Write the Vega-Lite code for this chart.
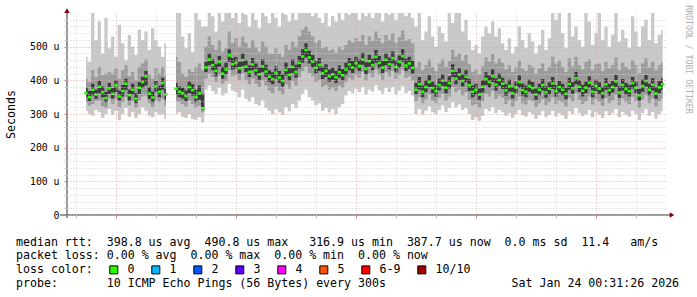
{
"$schema":"https://vega.github.io/schema/vega-lite/v6.json",
"width":600,"height":202,
"autosize":{"type":"none"},
"padding":{"left":67,"top":13,"right":30,"bottom":82},
"background":"#ffffff",
"view":{"stroke":null},
"config":{"font":"DejaVu Sans Mono"},
"title":{"text":["median\u00a0rtt:\u00a0\u00a0398.8\u00a0us\u00a0avg\u00a0\u00a0490.8\u00a0us\u00a0max\u00a0\u00a0\u00a0316.9\u00a0us\u00a0min\u00a0\u00a0387.7\u00a0us\u00a0now\u00a0\u00a00.0\u00a0ms\u00a0sd\u00a0\u00a011.4\u00a0\u00a0\u00a0am/s","packet\u00a0loss:\u00a00.00\u00a0%\u00a0avg\u00a0\u00a00.00\u00a0%\u00a0max\u00a0\u00a00.00\u00a0%\u00a0min\u00a0\u00a00.00\u00a0%\u00a0now","loss\u00a0color:","probe:\u00a0\u00a0\u00a0\u00a0\u00a0\u00a0\u00a010\u00a0ICMP\u00a0Echo\u00a0Pings\u00a0(56\u00a0Bytes)\u00a0every\u00a0300s\u00a0\u00a0\u00a0\u00a0\u00a0\u00a0\u00a0\u00a0\u00a0\u00a0\u00a0\u00a0\u00a0\u00a0\u00a0\u00a0\u00a0\u00a0Sat\u00a0Jan\u00a024\u00a000:31:26\u00a02026"],
"orient":"bottom","anchor":"start","frame":"group","font":"DejaVu Sans Mono","fontSize":11.6,"fontWeight":"normal","color":"#000000","lineHeight":13.7,"offset":6,"dx":-51,"dy":-45.5},
"data":{"values":[
{"t":-270,"m":362,"a":310,"b":470,"c":335,"d":405,"e":350,"f":378},
{"t":-260,"m":350,"a":300,"b":455,"c":325,"d":395,"e":338,"f":368},
{"t":-250,"m":372,"a":295,"b":600,"c":330,"d":430,"e":355,"f":390},
{"t":-240,"m":358,"a":312,"b":520,"c":338,"d":410,"e":345,"f":372},
{"t":-230,"m":381,"a":305,"b":575,"c":340,"d":440,"e":362,"f":398},
{"t":-220,"m":365,"a":288,"b":480,"c":322,"d":415,"e":350,"f":382},
{"t":-210,"m":347,"a":300,"b":585,"c":318,"d":420,"e":335,"f":365},
{"t":-200,"m":376,"a":315,"b":495,"c":345,"d":425,"e":360,"f":392},
{"t":-190,"m":360,"a":298,"b":530,"c":330,"d":420,"e":346,"f":377},
{"t":-180,"m":385,"a":310,"b":470,"c":344,"d":435,"e":365,"f":400},
{"t":-170,"m":352,"a":282,"b":565,"c":320,"d":405,"e":340,"f":370},
{"t":-160,"m":368,"a":300,"b":510,"c":335,"d":430,"e":352,"f":386},
{"t":-150,"m":390,"a":318,"b":460,"c":350,"d":445,"e":372,"f":405},
{"t":-140,"m":356,"a":292,"b":535,"c":326,"d":412,"e":340,"f":372},
{"t":-130,"m":372,"a":305,"b":500,"c":338,"d":425,"e":358,"f":390},
{"t":-120,"m":345,"a":288,"b":475,"c":318,"d":400,"e":332,"f":362},
{"t":-110,"m":378,"a":300,"b":550,"c":340,"d":440,"e":360,"f":395},
{"t":-100,"m":395,"a":320,"b":520,"c":352,"d":450,"e":378,"f":410},
{"t":-90,"m":412,"a":310,"b":545,"c":355,"d":462,"e":385,"f":428},
{"t":-80,"m":361,"a":295,"b":490,"c":332,"d":418,"e":345,"f":380},
{"t":-70,"m":349,"a":290,"b":555,"c":320,"d":405,"e":335,"f":366},
{"t":-60,"m":383,"a":305,"b":520,"c":340,"d":438,"e":366,"f":398},
{"t":-50,"m":366,"a":298,"b":500,"c":335,"d":420,"e":350,"f":384},
{"t":-40,"m":392,"a":300,"b":470,"c":345,"d":440,"e":372,"f":408},
{"t":-30,"m":358,"a":285,"b":510,"c":325,"d":412,"e":342,"f":374},
{"t":-20,"m":null,"a":null,"b":null,"c":null,"d":null,"e":null,"f":null},
{"t":-10,"m":null,"a":null,"b":null,"c":null,"d":null,"e":null,"f":null},
{"t":0,"m":375,"a":300,"b":600,"c":338,"d":470,"e":358,"f":392},
{"t":10,"m":366,"a":305,"b":600,"c":335,"d":455,"e":350,"f":382},
{"t":20,"m":362,"a":292,"b":530,"c":330,"d":420,"e":346,"f":378},
{"t":30,"m":353,"a":288,"b":495,"c":322,"d":410,"e":338,"f":370},
{"t":40,"m":380,"a":300,"b":540,"c":340,"d":432,"e":362,"f":396},
{"t":50,"m":371,"a":285,"b":485,"c":330,"d":425,"e":355,"f":388},
{"t":60,"m":350,"a":282,"b":600,"c":318,"d":440,"e":335,"f":372},
{"t":70,"m":362,"a":290,"b":580,"c":325,"d":450,"e":342,"f":385},
{"t":80,"m":317,"a":275,"b":560,"c":305,"d":430,"e":312,"f":360},
{"t":90,"m":438,"a":372,"b":560,"c":405,"d":500,"e":425,"f":455},
{"t":100,"m":462,"a":385,"b":600,"c":420,"d":530,"e":445,"f":480},
{"t":110,"m":445,"a":368,"b":590,"c":410,"d":505,"e":430,"f":462},
{"t":120,"m":428,"a":360,"b":545,"c":395,"d":490,"e":412,"f":448},
{"t":130,"m":455,"a":378,"b":600,"c":415,"d":520,"e":440,"f":472},
{"t":140,"m":420,"a":355,"b":575,"c":390,"d":485,"e":405,"f":440},
{"t":150,"m":432,"a":362,"b":600,"c":398,"d":495,"e":418,"f":452},
{"t":160,"m":474,"a":390,"b":600,"c":430,"d":545,"e":455,"f":492},
{"t":170,"m":448,"a":370,"b":585,"c":412,"d":510,"e":432,"f":466},
{"t":180,"m":452,"a":365,"b":600,"c":415,"d":525,"e":436,"f":470},
{"t":190,"m":436,"a":350,"b":570,"c":400,"d":500,"e":420,"f":455},
{"t":200,"m":460,"a":372,"b":600,"c":420,"d":530,"e":442,"f":480},
{"t":210,"m":441,"a":345,"b":595,"c":402,"d":512,"e":425,"f":460},
{"t":220,"m":425,"a":338,"b":560,"c":388,"d":495,"e":410,"f":445},
{"t":230,"m":447,"a":350,"b":600,"c":405,"d":520,"e":430,"f":466},
{"t":240,"m":430,"a":330,"b":580,"c":390,"d":498,"e":414,"f":450},
{"t":250,"m":418,"a":325,"b":555,"c":380,"d":485,"e":402,"f":438},
{"t":260,"m":442,"a":340,"b":600,"c":400,"d":515,"e":425,"f":462},
{"t":270,"m":426,"a":318,"b":590,"c":385,"d":500,"e":410,"f":446},
{"t":280,"m":411,"a":310,"b":570,"c":370,"d":480,"e":395,"f":430},
{"t":290,"m":404,"a":300,"b":600,"c":362,"d":478,"e":388,"f":424},
{"t":300,"m":422,"a":315,"b":585,"c":380,"d":495,"e":405,"f":442},
{"t":310,"m":408,"a":305,"b":560,"c":368,"d":480,"e":392,"f":428},
{"t":320,"m":398,"a":298,"b":600,"c":358,"d":470,"e":382,"f":418},
{"t":330,"m":431,"a":320,"b":595,"c":388,"d":505,"e":414,"f":452},
{"t":340,"m":416,"a":308,"b":575,"c":375,"d":490,"e":400,"f":436},
{"t":350,"m":440,"a":330,"b":600,"c":398,"d":515,"e":422,"f":462},
{"t":360,"m":425,"a":318,"b":580,"c":385,"d":500,"e":408,"f":446},
{"t":370,"m":452,"a":340,"b":600,"c":410,"d":530,"e":435,"f":472},
{"t":380,"m":471,"a":360,"b":600,"c":428,"d":550,"e":452,"f":492},
{"t":390,"m":490,"a":372,"b":600,"c":440,"d":560,"e":468,"f":510},
{"t":400,"m":468,"a":350,"b":600,"c":422,"d":545,"e":450,"f":488},
{"t":410,"m":455,"a":340,"b":590,"c":412,"d":530,"e":438,"f":475},
{"t":420,"m":437,"a":325,"b":600,"c":395,"d":512,"e":420,"f":458},
{"t":430,"m":446,"a":332,"b":585,"c":402,"d":520,"e":428,"f":466},
{"t":440,"m":421,"a":310,"b":570,"c":380,"d":495,"e":404,"f":440},
{"t":450,"m":428,"a":318,"b":600,"c":386,"d":500,"e":410,"f":448},
{"t":460,"m":412,"a":305,"b":560,"c":372,"d":488,"e":396,"f":432},
{"t":470,"m":418,"a":315,"b":590,"c":378,"d":492,"e":402,"f":438},
{"t":480,"m":409,"a":300,"b":575,"c":368,"d":482,"e":392,"f":428},
{"t":490,"m":424,"a":320,"b":600,"c":384,"d":500,"e":408,"f":444},
{"t":500,"m":415,"a":330,"b":580,"c":378,"d":490,"e":400,"f":434},
{"t":510,"m":432,"a":355,"b":600,"c":395,"d":505,"e":415,"f":452},
{"t":520,"m":447,"a":368,"b":595,"c":408,"d":520,"e":430,"f":466},
{"t":530,"m":438,"a":362,"b":600,"c":402,"d":512,"e":422,"f":458},
{"t":540,"m":451,"a":375,"b":600,"c":415,"d":525,"e":435,"f":470},
{"t":550,"m":443,"a":365,"b":580,"c":408,"d":515,"e":428,"f":462},
{"t":560,"m":462,"a":380,"b":600,"c":425,"d":535,"e":446,"f":482},
{"t":570,"m":434,"a":358,"b":590,"c":400,"d":505,"e":418,"f":454},
{"t":580,"m":457,"a":372,"b":600,"c":420,"d":530,"e":440,"f":476},
{"t":590,"m":445,"a":366,"b":585,"c":410,"d":518,"e":430,"f":464},
{"t":600,"m":470,"a":385,"b":600,"c":432,"d":545,"e":452,"f":490},
{"t":610,"m":452,"a":370,"b":600,"c":418,"d":525,"e":436,"f":472},
{"t":620,"m":438,"a":360,"b":575,"c":402,"d":510,"e":422,"f":458},
{"t":630,"m":461,"a":378,"b":600,"c":425,"d":535,"e":445,"f":480},
{"t":640,"m":448,"a":365,"b":595,"c":412,"d":520,"e":432,"f":468},
{"t":650,"m":466,"a":380,"b":600,"c":428,"d":540,"e":450,"f":486},
{"t":660,"m":440,"a":358,"b":580,"c":405,"d":512,"e":424,"f":460},
{"t":670,"m":455,"a":370,"b":600,"c":418,"d":528,"e":438,"f":474},
{"t":680,"m":472,"a":382,"b":600,"c":432,"d":548,"e":455,"f":492},
{"t":690,"m":444,"a":362,"b":590,"c":408,"d":518,"e":428,"f":464},
{"t":700,"m":450,"a":368,"b":600,"c":412,"d":522,"e":434,"f":470},
{"t":710,"m":437,"a":355,"b":585,"c":400,"d":510,"e":420,"f":458},
{"t":720,"m":372,"a":300,"b":560,"c":338,"d":440,"e":358,"f":392},
{"t":730,"m":389,"a":315,"b":600,"c":350,"d":455,"e":372,"f":410},
{"t":740,"m":366,"a":298,"b":520,"c":332,"d":430,"e":350,"f":385},
{"t":750,"m":380,"a":310,"b":545,"c":344,"d":445,"e":365,"f":400},
{"t":760,"m":395,"a":322,"b":590,"c":358,"d":462,"e":380,"f":415},
{"t":770,"m":377,"a":305,"b":530,"c":340,"d":440,"e":362,"f":396},
{"t":780,"m":368,"a":300,"b":500,"c":332,"d":428,"e":352,"f":386},
{"t":790,"m":386,"a":312,"b":560,"c":348,"d":450,"e":370,"f":405},
{"t":800,"m":399,"a":325,"b":540,"c":360,"d":462,"e":384,"f":418},
{"t":810,"m":378,"a":306,"b":515,"c":340,"d":440,"e":362,"f":396},
{"t":820,"m":392,"a":318,"b":600,"c":352,"d":458,"e":376,"f":412},
{"t":830,"m":428,"a":335,"b":570,"c":380,"d":490,"e":410,"f":448},
{"t":840,"m":405,"a":320,"b":600,"c":365,"d":470,"e":388,"f":425},
{"t":850,"m":417,"a":328,"b":600,"c":372,"d":480,"e":400,"f":436},
{"t":860,"m":398,"a":312,"b":545,"c":355,"d":460,"e":382,"f":418},
{"t":870,"m":411,"a":318,"b":580,"c":365,"d":475,"e":394,"f":430},
{"t":880,"m":385,"a":300,"b":520,"c":342,"d":448,"e":368,"f":404},
{"t":890,"m":366,"a":282,"b":490,"c":325,"d":425,"e":350,"f":385},
{"t":900,"m":372,"a":290,"b":505,"c":330,"d":432,"e":356,"f":390},
{"t":910,"m":358,"a":280,"b":480,"c":318,"d":418,"e":342,"f":376},
{"t":920,"m":381,"a":295,"b":530,"c":338,"d":442,"e":364,"f":400},
{"t":930,"m":404,"a":315,"b":560,"c":360,"d":468,"e":386,"f":424},
{"t":940,"m":395,"a":308,"b":540,"c":352,"d":456,"e":378,"f":414},
{"t":950,"m":412,"a":320,"b":575,"c":368,"d":478,"e":395,"f":432},
{"t":960,"m":387,"a":302,"b":530,"c":345,"d":450,"e":370,"f":406},
{"t":970,"m":401,"a":312,"b":555,"c":355,"d":465,"e":384,"f":420},
{"t":980,"m":390,"a":305,"b":510,"c":348,"d":452,"e":374,"f":408},
{"t":990,"m":370,"a":295,"b":490,"c":330,"d":432,"e":354,"f":388},
{"t":1000,"m":383,"a":302,"b":525,"c":342,"d":445,"e":366,"f":402},
{"t":1010,"m":362,"a":288,"b":480,"c":322,"d":425,"e":346,"f":380},
{"t":1020,"m":379,"a":300,"b":500,"c":338,"d":440,"e":362,"f":396},
{"t":1030,"m":395,"a":312,"b":560,"c":352,"d":458,"e":378,"f":414},
{"t":1040,"m":371,"a":296,"b":520,"c":332,"d":435,"e":355,"f":390},
{"t":1050,"m":366,"a":292,"b":495,"c":328,"d":428,"e":350,"f":384},
{"t":1060,"m":383,"a":305,"b":540,"c":342,"d":446,"e":366,"f":402},
{"t":1070,"m":377,"a":300,"b":515,"c":338,"d":440,"e":360,"f":395},
{"t":1080,"m":358,"a":285,"b":480,"c":320,"d":420,"e":342,"f":376},
{"t":1090,"m":372,"a":296,"b":505,"c":332,"d":435,"e":356,"f":390},
{"t":1100,"m":386,"a":308,"b":550,"c":345,"d":450,"e":370,"f":404},
{"t":1110,"m":364,"a":290,"b":490,"c":326,"d":428,"e":348,"f":382},
{"t":1120,"m":375,"a":298,"b":525,"c":335,"d":440,"e":358,"f":394},
{"t":1130,"m":391,"a":310,"b":600,"c":350,"d":470,"e":374,"f":410},
{"t":1140,"m":368,"a":292,"b":580,"c":330,"d":450,"e":352,"f":386},
{"t":1150,"m":380,"a":302,"b":600,"c":340,"d":460,"e":364,"f":398},
{"t":1160,"m":372,"a":296,"b":540,"c":334,"d":440,"e":356,"f":390},
{"t":1170,"m":360,"a":285,"b":495,"c":322,"d":425,"e":344,"f":378},
{"t":1180,"m":389,"a":308,"b":600,"c":348,"d":465,"e":372,"f":408},
{"t":1190,"m":376,"a":300,"b":530,"c":338,"d":442,"e":360,"f":394},
{"t":1200,"m":406,"a":318,"b":560,"c":362,"d":470,"e":388,"f":425},
{"t":1210,"m":381,"a":302,"b":520,"c":342,"d":445,"e":365,"f":400},
{"t":1220,"m":369,"a":294,"b":500,"c":330,"d":432,"e":352,"f":387},
{"t":1230,"m":378,"a":300,"b":600,"c":338,"d":455,"e":362,"f":396},
{"t":1240,"m":393,"a":312,"b":575,"c":352,"d":462,"e":377,"f":412},
{"t":1250,"m":366,"a":290,"b":505,"c":328,"d":430,"e":350,"f":384},
{"t":1260,"m":384,"a":305,"b":540,"c":344,"d":448,"e":368,"f":402},
{"t":1270,"m":375,"a":298,"b":600,"c":336,"d":450,"e":358,"f":394},
{"t":1280,"m":362,"a":288,"b":520,"c":324,"d":428,"e":346,"f":380},
{"t":1290,"m":388,"a":308,"b":560,"c":348,"d":455,"e":372,"f":406},
{"t":1300,"m":371,"a":296,"b":500,"c":332,"d":436,"e":355,"f":390},
{"t":1310,"m":380,"a":302,"b":535,"c":340,"d":445,"e":364,"f":398},
{"t":1320,"m":397,"a":315,"b":600,"c":356,"d":468,"e":380,"f":416},
{"t":1330,"m":364,"a":290,"b":515,"c":326,"d":430,"e":348,"f":382},
{"t":1340,"m":386,"a":306,"b":550,"c":346,"d":452,"e":370,"f":404},
{"t":1350,"m":374,"a":298,"b":525,"c":335,"d":440,"e":358,"f":392},
{"t":1360,"m":368,"a":292,"b":495,"c":330,"d":432,"e":352,"f":386},
{"t":1370,"m":392,"a":310,"b":590,"c":352,"d":460,"e":376,"f":410},
{"t":1380,"m":378,"a":300,"b":545,"c":338,"d":445,"e":362,"f":396},
{"t":1390,"m":355,"a":282,"b":500,"c":318,"d":422,"e":340,"f":374},
{"t":1400,"m":383,"a":302,"b":560,"c":342,"d":450,"e":366,"f":402},
{"t":1410,"m":398,"a":314,"b":580,"c":356,"d":465,"e":382,"f":416},
{"t":1420,"m":372,"a":295,"b":520,"c":332,"d":438,"e":356,"f":390},
{"t":1430,"m":387,"a":306,"b":600,"c":346,"d":455,"e":370,"f":406},
{"t":1440,"m":361,"a":286,"b":510,"c":322,"d":430,"e":345,"f":380},
{"t":1450,"m":379,"a":300,"b":535,"c":338,"d":445,"e":362,"f":398},
{"t":1460,"m":388,"a":308,"b":550,"c":346,"d":452,"e":372,"f":406}
]},
"layer":[
{"mark":{"type":"area","interpolate":"step","color":"#c8c8c8"},
 "encoding":{
  "x":{"field":"t","type":"quantitative","scale":{"domain":[-327,1473],"nice":false,"zero":false},
   "axis":{"values":[-300,-240,-180,-120,-60,0,60,120,180,240,300,360,420,480,540,600,660,720,780,840,900,960,1020,1080,1140,1200,1260,1320,1380,1440],
    "title":null,"domain":false,"grid":true,"zindex":1,
    "gridColor":{"condition":{"test":"datum.value % 180 === 0","value":"#dfa6a6"},"value":"#d2d2d2"},
    "gridDash":[1,2],
    "tickSize":3,"tickColor":{"condition":{"test":"datum.value % 180 === 0","value":"#d08080"},"value":"#c0c0c0"},
    "labelExpr":"datum.value === 0 ? 'Fri 00:00' : datum.value === 360 ? 'Fri 06:00' : datum.value === 720 ? 'Fri 12:00' : datum.value === 1080 ? 'Fri 18:00' : datum.value === 1440 ? 'Sat 00:00' : ''",
    "labelFont":"DejaVu Sans Mono","labelFontSize":9.8,"labelColor":"#000000","labelAngle":0,"labelPadding":2,"labelOverlap":false,"labelFlush":false}},
  "y":{"field":"a","type":"quantitative","scale":{"domain":[0,600],"nice":false},
   "axis":{"values":[0,20,40,60,80,100,120,140,160,180,200,220,240,260,280,300,320,340,360,380,400,420,440,460,480,500,520,540,560,580],
    "title":"Seconds","titleFont":"DejaVu Sans Mono","titleFontSize":11.6,"titleFontWeight":"normal","titleColor":"#000000",
    "titleAngle":-90,"titleX":-56,"titleY":101,"titleAlign":"center","titleBaseline":"middle",
    "domain":false,"grid":true,"zindex":1,
    "gridColor":{"condition":{"test":"datum.value % 100 === 0","value":"#dfa6a6"},"value":"#d2d2d2"},
    "gridDash":[1,2],
    "tickSize":3,"tickColor":{"condition":{"test":"datum.value % 100 === 0","value":"#d08080"},"value":"#c0c0c0"},
    "labelExpr":"datum.value === 0 ? '0\u00a0\u00a0' : (datum.value % 100 === 0 ? datum.value + '\u00a0u' : '')",
    "labelFont":"DejaVu Sans Mono","labelFontSize":9.8,"labelColor":"#000000","labelPadding":5,"labelOverlap":false,"labelBaseline":"middle"}},
  "y2":{"field":"b"}}},
{"mark":{"type":"area","interpolate":"step","color":"#9c9c9c"},
 "encoding":{"x":{"field":"t","type":"quantitative"},"y":{"field":"c","type":"quantitative","axis":null},"y2":{"field":"d"}}},
{"mark":{"type":"area","interpolate":"step","color":"#3c3c3c"},
 "encoding":{"x":{"field":"t","type":"quantitative"},
  "y":{"field":"e","type":"quantitative",
   "axis":{"orient":"right","labels":false,"ticks":false,"domain":false,"grid":false,
    "title":"RRDTOOL / TOBI OETIKER","titleAngle":90,"titleFont":"DejaVu Sans Mono","titleFontSize":8.2,"titleFontWeight":"normal","titleColor":"#b0b0b0",
    "titleX":20,"titleY":46,"titleAlign":"center","titleBaseline":"middle"}},
  "y2":{"field":"f"}}},
{"mark":{"type":"tick","orient":"horizontal","size":3.4,"thickness":2.6,"opacity":1},
 "encoding":{"x":{"field":"t","type":"quantitative"},"y":{"field":"m","type":"quantitative","axis":null},
  "color":{"datum":"0","type":"nominal",
   "scale":{"domain":["0","1","2","3","4","5","6-9","10/10"],"range":["#26ff00","#00b8ff","#0059ff","#5e00ff","#ff00fe","#ff5500","#ff0000","#a00000"]},
   "legend":{"orient":"none","legendX":41,"legendY":251,"direction":"horizontal","padding":0,"title":null,
    "labelFont":"DejaVu Sans Mono","labelFontSize":11.6,"labelColor":"#000000","labelOffset":8,
    "symbolType":"square","symbolSize":64,"symbolStrokeColor":"#000000","symbolStrokeWidth":1,"symbolOpacity":1,"columnPadding":14}}}},
{"data":{"values":[{}]},"mark":{"type":"rule","color":"#333333","strokeWidth":1,"clip":false},
 "encoding":{"x":{"datum":-327,"type":"quantitative"},"y":{"datum":-9,"type":"quantitative","axis":null},"y2":{"datum":606}}},
{"data":{"values":[{}]},"mark":{"type":"rule","color":"#333333","strokeWidth":1,"clip":false},
 "encoding":{"x":{"datum":-348,"type":"quantitative"},"x2":{"datum":1483},"y":{"datum":0,"type":"quantitative","axis":null}}},
{"data":{"values":[{}]},"mark":{"type":"point","shape":"triangle-up","filled":true,"color":"#7f0000","size":28,"opacity":1,"clip":false},
 "encoding":{"x":{"datum":-327,"type":"quantitative"},"y":{"datum":607,"type":"quantitative","axis":null}}},
{"data":{"values":[{}]},"mark":{"type":"point","shape":"triangle-right","filled":true,"color":"#7f0000","size":28,"opacity":1,"clip":false},
 "encoding":{"x":{"datum":1488,"type":"quantitative"},"y":{"datum":0,"type":"quantitative","axis":null}}}
],
"resolve":{"axis":{"y":"independent"}}
}
